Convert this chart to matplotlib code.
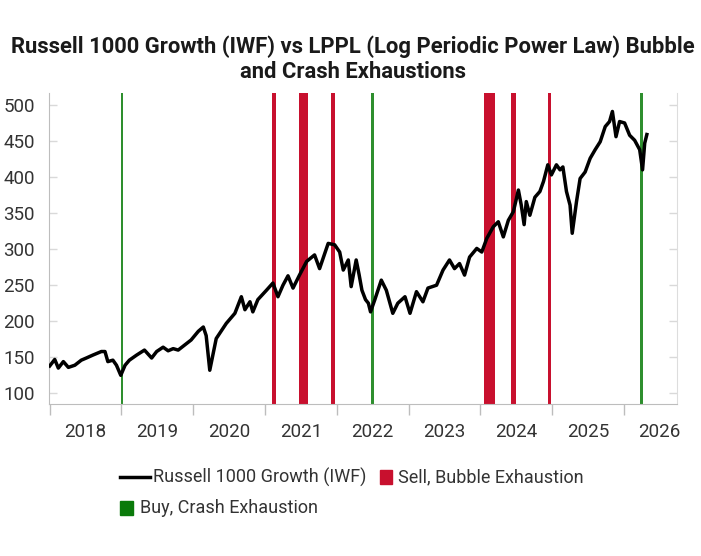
import matplotlib
matplotlib.use("Agg")
import matplotlib.pyplot as plt
from matplotlib import font_manager
from matplotlib.patches import Rectangle
from matplotlib.lines import Line2D


def pick_font(name, fallback):
    # narrow face if we have it, else something close
    try:
        font_manager.findfont(name, fallback_to_default=False)
        return name
    except ValueError:
        return fallback


# IWF weekly-ish closes (decimal year, price)
years = [2018.00, 2018.07, 2018.12, 2018.19, 2018.26, 2018.35, 2018.44, 2018.51,
         2018.60, 2018.72, 2018.77, 2018.81, 2018.88, 2018.93, 2018.99, 2019.05,
         2019.11, 2019.21, 2019.32, 2019.42, 2019.49, 2019.58, 2019.65, 2019.72,
         2019.79, 2019.88, 2019.97, 2020.07, 2020.14, 2020.18, 2020.23, 2020.32,
         2020.46, 2020.58, 2020.67, 2020.72, 2020.79, 2020.83, 2020.90, 2021.02,
         2021.11, 2021.18, 2021.25, 2021.32, 2021.39, 2021.48, 2021.58, 2021.69,
         2021.76, 2021.88, 2021.97, 2022.04, 2022.09, 2022.16, 2022.20, 2022.27,
         2022.31, 2022.35, 2022.40, 2022.44, 2022.47, 2022.53, 2022.62, 2022.69,
         2022.78, 2022.85, 2022.95, 2023.02, 2023.11, 2023.20, 2023.27, 2023.39,
         2023.48, 2023.57, 2023.64, 2023.71, 2023.78, 2023.85, 2023.95, 2024.02,
         2024.09, 2024.18, 2024.25, 2024.32, 2024.39, 2024.46, 2024.53, 2024.57,
         2024.61, 2024.64, 2024.69, 2024.76, 2024.83, 2024.88, 2024.94, 2024.99,
         2025.06, 2025.11, 2025.15, 2025.20, 2025.25, 2025.28, 2025.34, 2025.39,
         2025.46, 2025.53, 2025.60, 2025.67, 2025.74, 2025.80, 2025.84, 2025.89,
         2025.94, 2026.01, 2026.08, 2026.15, 2026.22, 2026.26, 2026.29, 2026.32]
iwf = [138, 147, 135, 144, 136, 139, 146, 149,
       153, 158, 158, 144, 146, 139, 125, 139,
       146, 153, 160, 149, 158, 164, 159, 162,
       160, 167, 174, 186, 192, 180, 132, 176,
       197, 211, 234, 216, 227, 213, 230, 243,
       253, 234, 250, 263, 246, 264, 283, 292,
       273, 308, 306, 296, 271, 285, 248, 285,
       265, 243, 230, 225, 213, 230, 257, 243,
       211, 225, 234, 211, 241, 227, 246, 250,
       271, 285, 273, 280, 264, 289, 301, 296,
       315, 331, 338, 317, 340, 352, 382, 361,
       334, 366, 347, 372, 380, 394, 417, 403,
       417, 410, 414, 380, 361, 322, 366, 398,
       407, 426, 438, 449, 470, 477, 491, 456,
       477, 475, 458, 451, 438, 410, 447, 459]

# LPPL signal windows (start, end) in decimal years
sell_start = [2021.10, 2021.48, 2021.92, 2024.05, 2024.43, 2024.94]
sell_end = [2021.15, 2021.60, 2021.98, 2024.20, 2024.50, 2024.99]
buy_start = [2018.99, 2022.47, 2026.23]
buy_end = [2019.02, 2022.52, 2026.27]

year_labels = ['2018', '2019', '2020', '2021', '2022', '2023', '2024', '2025', '2026']
y_ticks = [100, 150, 200, 250, 300, 350, 400, 450, 500]

red = '#C8102E'
green = '#2E8F2E'
green_leg = '#0A7A0A'

narrow = pick_font('Liberation Sans Narrow', 'Roboto')
plt.rcParams['font.family'] = [narrow, 'DejaVu Sans']

fig = plt.figure(figsize=(7.01, 5.56), dpi=100)
ax = fig.add_axes([49 / 701, 1 - 404 / 556, 628 / 701, 311 / 556])

for s, e in zip(sell_start, sell_end):
    ax.axvspan(s, e, color=red, lw=0, zorder=1)
for s, e in zip(buy_start, buy_end):
    ax.axvspan(s, e, color=green, lw=0, zorder=1)

ax.plot(years, iwf, color='black', lw=2.5, solid_joinstyle='round', zorder=3)

ax.set_xlim(2017.99, 2026.74)
ax.set_ylim(85.2, 516.6)

# year boundaries as ticks, labels centred in each year
ax.set_xticks(range(2018, 2027))
ax.set_xticklabels([])
ax.set_xticks([int(y) + 0.5 for y in year_labels], minor=True)
ax.set_xticklabels(year_labels, minor=True)
ax.tick_params(axis='x', which='major', direction='out', length=8, color='#bdbdbd', width=1)
ax.tick_params(axis='x', which='minor', length=0, pad=14, labelsize=13.5, labelcolor='#333333')

ax.set_yticks(y_ticks)
ax.tick_params(axis='y', which='both', direction='in', length=6, color='#d9d9d9', width=1,
               pad=10, labelsize=13.5, labelcolor='#333333', right=True)

for side in ['left', 'bottom']:
    ax.spines[side].set_color('#bdbdbd')
ax.spines['right'].set_color('#dddddd')
ax.spines['top'].set_visible(False)

fig.text(0.503, 0.894, 'Russell 1000 Growth (IWF) vs LPPL (Log Periodic Power Law) Bubble\nand Crash Exhaustions',
         ha='center', va='center', fontsize=15.8, fontweight='bold', color='#1a1a1a', linespacing=1.2)

# legend drawn by hand so the swatches sit like the original
W, H = 701, 556
fig.add_artist(Line2D([120 / W, 150 / W], [1 - 477 / H] * 2, color='black', lw=2.5))
fig.text(153 / W, 1 - 477 / H, 'Russell 1000 Growth (IWF)', va='center', fontsize=13, color='#333333')
fig.add_artist(Rectangle((380 / W, 1 - 484 / H), 12 / W, 14 / H, color=red))
fig.text(398 / W, 1 - 477 / H, 'Sell, Bubble Exhaustion', va='center', fontsize=13, color='#333333')
fig.add_artist(Rectangle((120 / W, 1 - 515 / H), 13 / W, 14 / H, color=green_leg))
fig.text(140 / W, 1 - 508 / H, 'Buy, Crash Exhaustion', va='center', fontsize=13, color='#333333')

fig.savefig('out.png', dpi=100, facecolor='white')
